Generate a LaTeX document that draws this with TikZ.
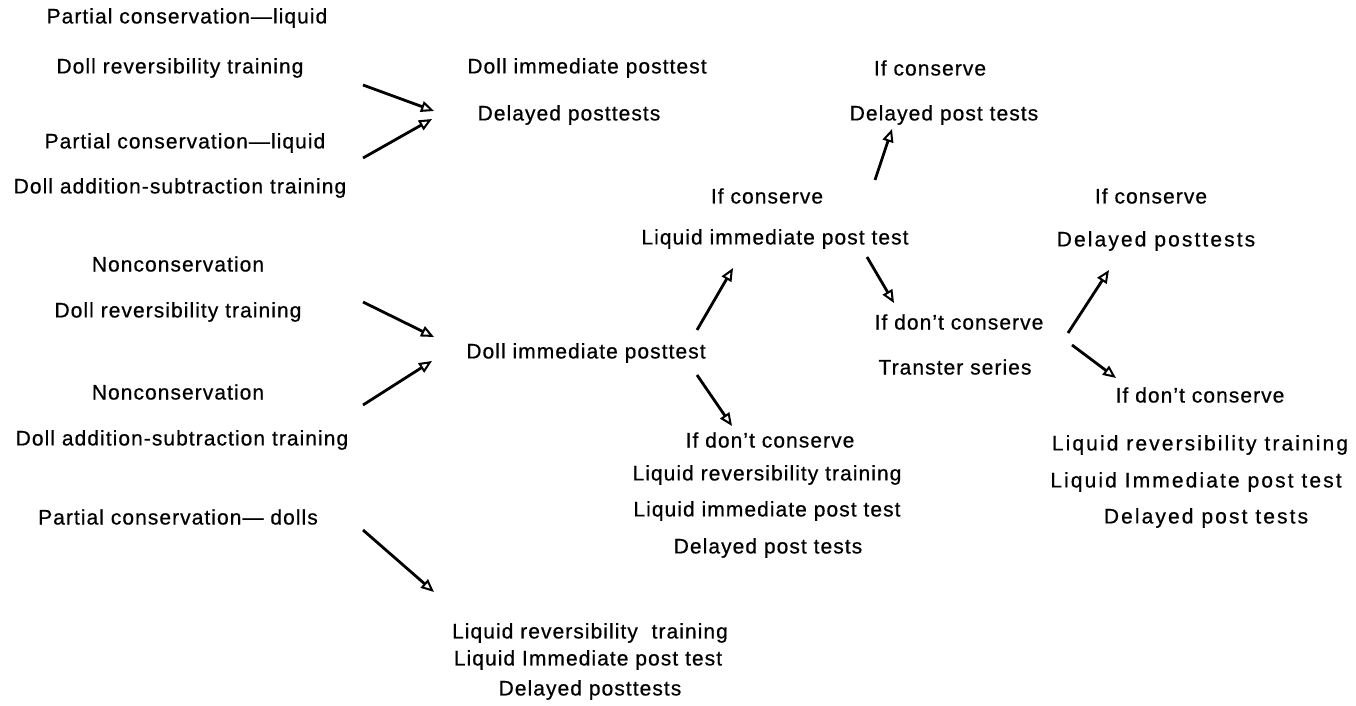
\documentclass[tikz,border=0pt]{standalone}
\usepackage{fontspec}
\setmainfont{Liberation Sans}[LetterSpace=5,FakeBold=0.6]
\usetikzlibrary{arrows.meta}
\begin{document}
\begin{tikzpicture}[x=1pt,y=-1pt,
  lbl/.style={font=\fontsize{21}{23}\selectfont, inner sep=0pt, anchor=center},
  wlbl/.style={font=\fontsize{21}{23}\selectfont\addfontfeatures{LetterSpace=10}, inner sep=0pt, anchor=center},
  arr/.style={line width=2.8pt, -{Triangle[open,length=13pt,width=11pt,line width=2pt]}}]
\useasboundingbox (0,0) rectangle (1356,706);
% left column
\node[lbl] (a1) at (187,18) {Partial conservation—liquid};
\node[lbl] (a2) at (180,68) {Doll reversibility training};
\node[lbl] (b1) at (185,143) {Partial conservation—liquid};
\node[lbl] (b2) at (180,188) {Doll addition-subtraction training};
\node[lbl] (c1) at (178,264) {Nonconservation};
\node[lbl] (c2) at (178,312) {Doll reversibility training};
\node[lbl] (d1) at (178,392) {Nonconservation};
\node[lbl] (d2) at (182,440) {Doll addition-subtraction training};
\node[lbl] (e1) at (178,517) {Partial conservation— dolls};
% arrow tails / heads as coordinates
\coordinate (t1) at (363,85);  \coordinate (h1) at (434,111);
\coordinate (t2) at (363,158); \coordinate (h2) at (432,119);
\coordinate (t3) at (363,302); \coordinate (h3) at (434,337);
\coordinate (t4) at (363,405); \coordinate (h4) at (432,361);
\coordinate (t5) at (363,530); \coordinate (h5) at (434,592);
\draw[arr] (t1) -- (h1);
\draw[arr] (t2) -- (h2);
\draw[arr] (t3) -- (h3);
\draw[arr] (t4) -- (h4);
\draw[arr] (t5) -- (h5);
% top middle
\node[lbl] (m1) at (587,68) {Doll immediate posttest};
\node[lbl] (m2) at (569,115) {Delayed posttests};
\node[lbl] (n1) at (930,68) {If conserve};
\node[lbl] (n2) at (944,115) {Delayed post tests};
\node[lbl] (p1) at (767,196) {If conserve};
\node[lbl] (p2) at (775,239) {Liquid immediate post test};
\coordinate (t6) at (875,180); \coordinate (h6) at (892,129);
\draw[arr] (t6) -- (h6);
% middle
\node[lbl] (q1) at (586,353) {Doll immediate posttest};
\coordinate (t7) at (697,330); \coordinate (h7) at (733,268);
\draw[arr] (t7) -- (h7);
\coordinate (t8) at (697,375); \coordinate (h8) at (732,426);
\draw[arr] (t8) -- (h8);
\coordinate (t9) at (867,257); \coordinate (h9) at (894,303);
\draw[arr] (t9) -- (h9);
\node[lbl] (r1) at (770,440) {If don't conserve};
\node[lbl] (r2) at (767,475) {Liquid reversibility training};
\node[lbl] (r3) at (767,511) {Liquid immediate post test};
\node[lbl] (r4) at (768,548) {Delayed post tests};
\node[lbl] (s1) at (959,322) {If don't conserve};
\node[lbl] (s2) at (955,367) {Transter series};
% right
\node[lbl] (u1) at (1151,196) {If conserve};
\node[wlbl] (u2) at (1156,241) {Delayed posttests};
\coordinate (t10) at (1068,333); \coordinate (h10) at (1109,270);
\draw[arr] (t10) -- (h10);
\coordinate (t11) at (1072,345); \coordinate (h11) at (1116,378);
\draw[arr] (t11) -- (h11);
\node[lbl] (v1) at (1200,395) {If don't conserve};
\node[wlbl] (v2) at (1200,445) {Liquid reversibility training};
\node[wlbl] (v3) at (1196,482) {Liquid Immediate post test};
\node[wlbl] (v4) at (1206,518) {Delayed post tests};
% bottom
\node[lbl] (w1) at (590,633) {Liquid reversibility \ training};
\node[lbl] (w2) at (588,660) {Liquid Immediate post test};
\node[lbl] (w3) at (590,690) {Delayed posttests};
\end{tikzpicture}
\end{document}
